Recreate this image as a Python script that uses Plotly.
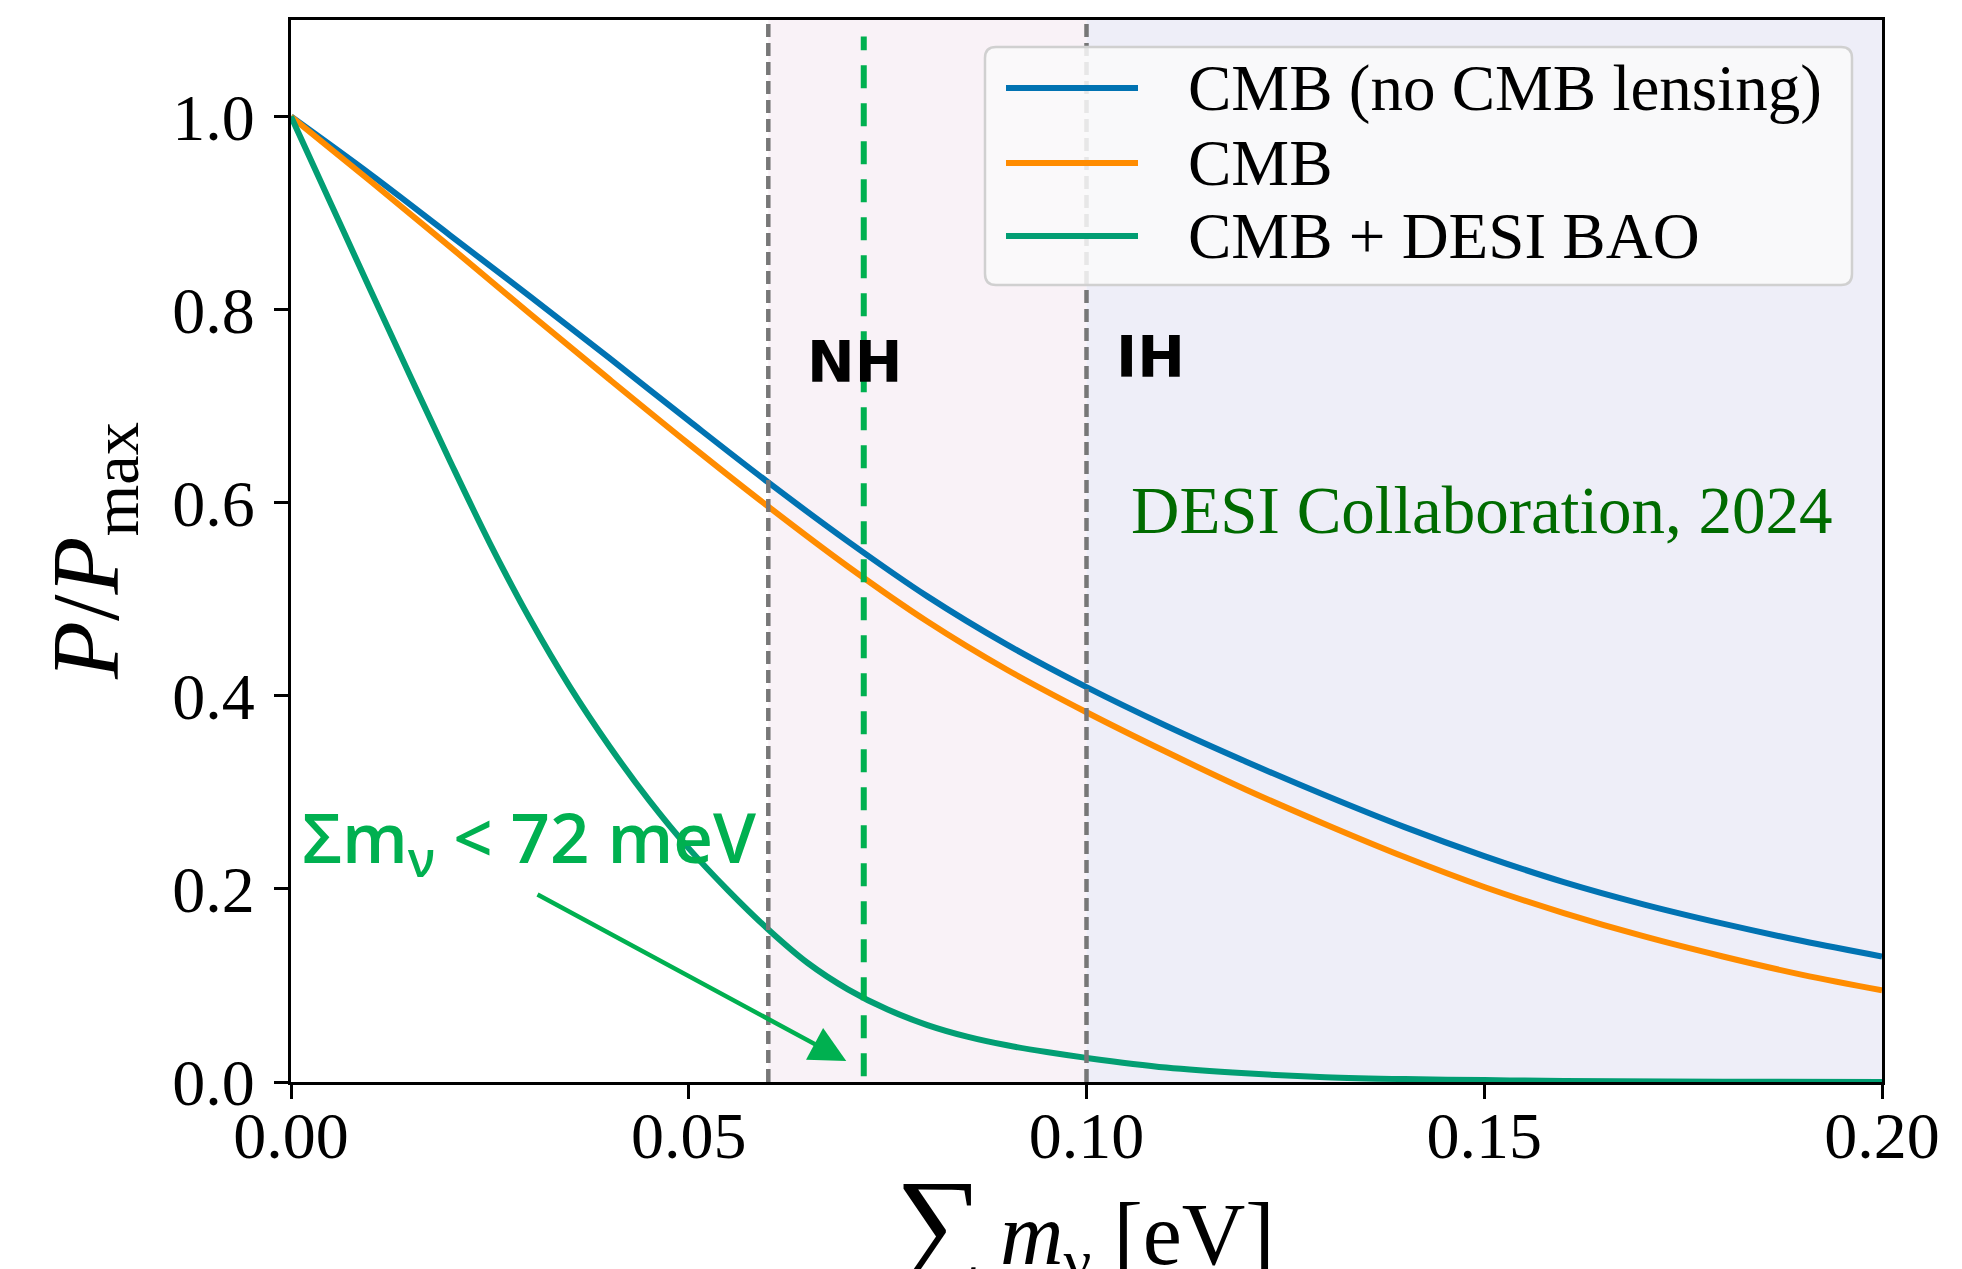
import plotly.graph_objects as go

# ---------------- data ----------------
mass = [0.00, 0.01, 0.02, 0.03, 0.04, 0.05, 0.06, 0.07, 0.08, 0.09, 0.10,
        0.11, 0.12, 0.13, 0.14, 0.15, 0.16, 0.17, 0.18, 0.19, 0.20]
p_cmb_nolens = [1.000, 0.940, 0.877, 0.814, 0.750, 0.685, 0.621, 0.560, 0.503, 0.453, 0.409,
                0.369, 0.332, 0.297, 0.264, 0.234, 0.207, 0.184, 0.164, 0.146, 0.130]
p_cmb = [1.000, 0.933, 0.865, 0.796, 0.728, 0.661, 0.596, 0.534, 0.477, 0.427, 0.383,
         0.342, 0.303, 0.267, 0.233, 0.202, 0.175, 0.151, 0.130, 0.111, 0.095]
mass_desi = [0.000, 0.005, 0.010, 0.015, 0.020, 0.025, 0.030, 0.035, 0.040, 0.045, 0.050,
             0.055, 0.060, 0.065, 0.070, 0.075, 0.080, 0.085, 0.090, 0.095, 0.100,
             0.110, 0.120, 0.130, 0.140, 0.150, 0.160, 0.180, 0.200]
p_desi = [1.000, 0.910, 0.820, 0.731, 0.643, 0.558, 0.480, 0.410, 0.348, 0.292, 0.242,
          0.198, 0.158, 0.123, 0.096, 0.075, 0.059, 0.047, 0.038, 0.031, 0.025,
          0.015, 0.009, 0.005, 0.003, 0.002, 0.001, 0.0003, 0.0]

series_names = ["CMB (no CMB lensing)", "CMB", "CMB + DESI BAO"]
series_colors = ["#0173B2", "#FF8C00", "#029E73"]

hierarchy_bounds = [0.06, 0.10]   # NH minimum, IH minimum
hierarchy_labels = ["NH", "IH"]
x_max = 0.20
desi_limit = 0.072
x_ticks = [0.00, 0.05, 0.10, 0.15, 0.20]
y_ticks = [0.0, 0.2, 0.4, 0.6, 0.8, 1.0]

# ---------------- layout geometry ----------------
W, H = 1962, 1269
L, R, T, B = 291, 1882, 20, 1082
PW, PH = R - L, B - T


def px(x):
    return (x - L) / PW


def py(y):
    return (B - y) / PH


SERIF = "Liberation Serif"

fig = go.Figure()

xs = [mass, mass, mass_desi]
ys = [p_cmb_nolens, p_cmb, p_desi]
for name, col, xv, yv in zip(series_names, series_colors, xs, ys):
    fig.add_trace(go.Scatter(x=xv, y=yv, mode="lines", name=name,
                             line=dict(color=col, width=6, shape="spline", smoothing=1.0),
                             showlegend=False))

shapes = []
# shaded hierarchy regions
shapes.append(dict(type="rect", xref="x", yref="paper", x0=hierarchy_bounds[0], x1=hierarchy_bounds[1],
                   y0=0, y1=1, fillcolor="#F9F2F7", line=dict(width=0), layer="below"))
shapes.append(dict(type="rect", xref="x", yref="paper", x0=hierarchy_bounds[1], x1=x_max,
                   y0=0, y1=1, fillcolor="#EEEEF8", line=dict(width=0), layer="below"))
# hierarchy boundaries
for xb in hierarchy_bounds:
    shapes.append(dict(type="line", xref="x", yref="paper", x0=xb, x1=xb, y0=0, y1=1,
                       line=dict(color="#777777", width=4.5, dash="13px,6px")))
# DESI limit
shapes.append(dict(type="line", xref="x", yref="y", x0=desi_limit, x1=desi_limit, y0=0.006, y1=1.083,
                   line=dict(color="#00B050", width=6, dash="23px,15px")))

# legend box (rounded)
bx0, bx1, by0, by1, rr = 985, 1852, 47, 285, 11
pts = [("M", [(bx0 + rr, by0)]), ("L", [(bx1 - rr, by0)]), ("Q", [(bx1, by0), (bx1, by0 + rr)]),
       ("L", [(bx1, by1 - rr)]), ("Q", [(bx1, by1), (bx1 - rr, by1)]), ("L", [(bx0 + rr, by1)]),
       ("Q", [(bx0, by1), (bx0, by1 - rr)]), ("L", [(bx0, by0 + rr)]), ("Q", [(bx0, by0), (bx0 + rr, by0)])]
path = ""
for cmd, cs in pts:
    path += cmd + " ".join(f"{px(a):.5f},{py(b):.5f}" for a, b in cs) + " "
path += "Z"
shapes.append(dict(type="path", xref="paper", yref="paper", path=path,
                   fillcolor="rgba(250,250,250,0.85)", line=dict(color="#D0D0D0", width=2.5)))

annotations = []
row_y = [88, 163, 236]
for name, col, ry in zip(series_names, series_colors, row_y):
    shapes.append(dict(type="line", xref="paper", yref="paper", x0=px(1006), x1=px(1138),
                       y0=py(ry), y1=py(ry), line=dict(color=col, width=6)))
    annotations.append(dict(xref="paper", yref="paper", x=px(1186), y=py(ry), text=name,
                            showarrow=False, xanchor="left", yanchor="middle",
                            font=dict(family=SERIF, size=65, color="black")))

# NH / IH labels
annotations.append(dict(xref="x", yref="y", x=0.0646, y=0.746, text=hierarchy_labels[0], showarrow=False,
                        xanchor="left", yanchor="middle",
                        font=dict(family="DejaVu Sans", size=57, color="black", weight="bold")))
annotations.append(dict(xref="x", yref="y", x=0.1035, y=0.751, text=hierarchy_labels[1], showarrow=False,
                        xanchor="left", yanchor="middle",
                        font=dict(family="DejaVu Sans", size=57, color="black", weight="bold")))
# credit
annotations.append(dict(xref="x", yref="y", x=0.1053, y=0.592, text="DESI Collaboration, 2024",
                        showarrow=False, xanchor="left", yanchor="middle",
                        font=dict(family=SERIF, size=67, color="#006B00")))
# limit text + arrow
annotations.append(dict(xref="x", yref="y", x=0.0011, y=0.251,
                        text="Σm<sub>ν</sub> &lt; 72 meV", showarrow=False,
                        xanchor="left", yanchor="middle",
                        font=dict(family="Open Sans", size=69, color="#00B050", weight=600)))
annotations.append(dict(xref="x", yref="y", x=0.0698, y=0.0217, ax=0.0308, ay=0.195,
                        axref="x", ayref="y", text="", showarrow=True,
                        arrowhead=2, arrowsize=1.6, arrowwidth=4.5, arrowcolor="#00B050"))

# axis titles
annotations.append(dict(xref="paper", yref="paper", x=px(92), y=0.5, text="<i>P</i>/<i>P</i><sub>max</sub>",
                        showarrow=False, textangle=-90, xanchor="center", yanchor="middle",
                        font=dict(family=SERIF, size=95, color="black")))
annotations.append(dict(xref="paper", yref="paper", x=px(893), y=py(1153), text="∑",
                        showarrow=False, xanchor="left", yanchor="top",
                        font=dict(family=SERIF, size=125, color="black")))
annotations.append(dict(xref="paper", yref="paper", x=px(998), y=py(1184),
                        text="<i>m</i><sub>ν</sub> [eV]",
                        showarrow=False, xanchor="left", yanchor="top",
                        font=dict(family=SERIF, size=88, color="black")))

axis_common = dict(showgrid=False, zeroline=False, showline=True, linecolor="black", linewidth=3,
                   mirror=True, ticks="outside", ticklen=14, tickwidth=3, tickcolor="black",
                   tickfont=dict(family=SERIF, size=66, color="black"))

fig.update_layout(
    width=W, height=H, autosize=False,
    margin=dict(l=L, r=W - R, t=T, b=H - B, pad=0),
    paper_bgcolor="white", plot_bgcolor="white",
    xaxis=dict(range=[0, x_max], tickvals=x_ticks, ticktext=[f"{v:.2f}" for v in x_ticks],
               ticklabelstandoff=-20, **axis_common),
    yaxis=dict(range=[0, 1.1], tickvals=y_ticks, ticktext=[f"{v:.1f}" for v in y_ticks],
               ticklabelstandoff=6, **axis_common),
    shapes=shapes, annotations=annotations, showlegend=False,
)

fig.write_html("out.html")
